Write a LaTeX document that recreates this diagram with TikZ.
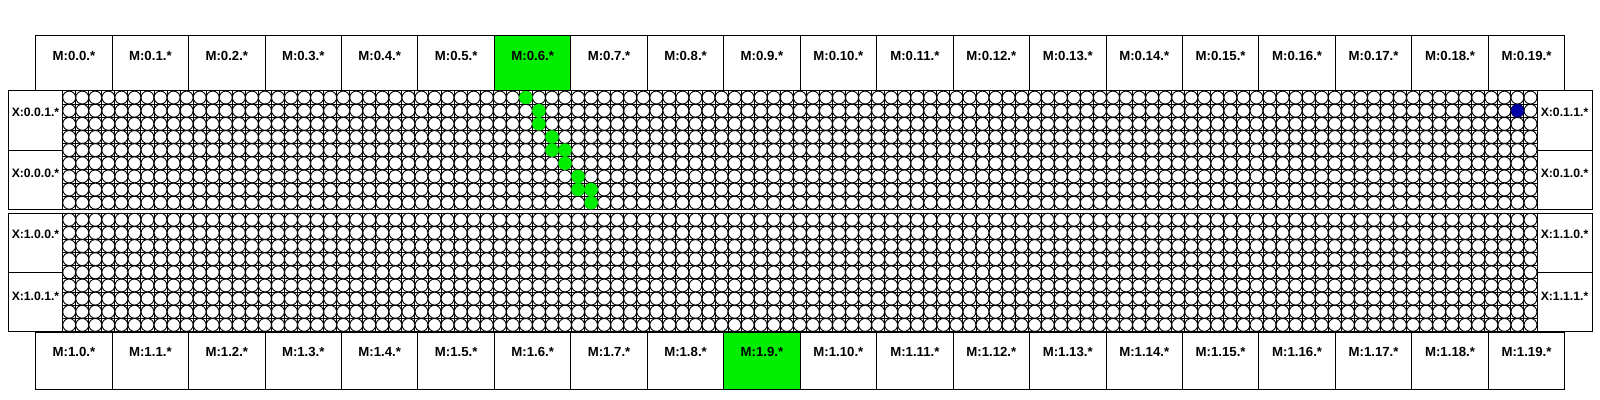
\documentclass[tikz,border=0pt]{standalone}
\usepackage{fontspec}
\setmainfont{Liberation Sans}
\definecolor{hotgreen}{RGB}{0,238,0}
\definecolor{dotblue}{RGB}{0,0,168}
\begin{document}
\begin{tikzpicture}[x=0.5pt,y=-0.5pt,line width=0.5pt,
  mbox/.style={draw=black,fill=white},
  cellbox/.style={draw=black,fill=white},
  lab/.style={font=\fontsize{6.6}{7}\selectfont\bfseries,inner sep=0pt,anchor=center},
  xlab/.style={font=\fontsize{6.1}{7}\selectfont\bfseries,inner sep=0pt,anchor=center},
  dot/.style={draw=black,fill=white,line width=0.45pt},
  gdot/.style={fill=hotgreen,draw=hotgreen,line width=0.3pt},
  bdot/.style={fill=dotblue,draw=dotblue!70!black,line width=0.3pt}]
\useasboundingbox (0,0) rectangle (1600,400);
\fill[white] (0,0) rectangle (1600,400);
% ---------- top memory boxes ----------
\foreach \i in {0,...,19}{
  \draw[mbox] ({35.7+\i*76.45},35.5) rectangle ++(76.45,55.5);
}
\draw[mbox,fill=hotgreen] ({35.7+6*76.45},35.5) rectangle ++(76.45,55.5);
\foreach \i in {0,...,19}{
  \node[lab] (mt\i) at ({35.7+(\i+0.5)*76.45},55.5) {M:0.\i.*};
}
% ---------- bottom memory boxes ----------
\foreach \i in {0,...,19}{
  \draw[mbox] ({35.7+\i*76.45},332.5) rectangle ++(76.45,57.5);
}
\draw[mbox,fill=hotgreen] ({35.7+9*76.45},332.5) rectangle ++(76.45,57.5);
\foreach \i in {0,...,19}{
  \node[lab] (mb\i) at ({35.7+(\i+0.5)*76.45},352) {M:1.\i.*};
}
% ---------- two panels ----------
\foreach \T in {91,213.2}{
  % grid lines
  \foreach \k in {0,...,113}{
    \draw ({62.7+\k*13.047},\T) -- ++(0,118.3);
  }
  \foreach \j in {0,...,9}{
    \draw (62.7,{\T+\j*13.144}) -- (1537,{\T+\j*13.144});
  }
  % circles
  \foreach \k in {0,...,112}{
    \foreach \j in {0,...,8}{
      \draw[dot] ({62.7+(\k+0.5)*13.047},{\T+(\j+0.5)*13.144}) circle (6.45);
    }
  }
  \draw (62.7,\T) rectangle (1537,{\T+118.3});
  % side cells
  \draw[cellbox] (8.3,\T) rectangle (62.7,{\T+59.15});
  \draw[cellbox] (8.3,{\T+59.15}) rectangle (62.7,{\T+118.3});
  \draw[cellbox] (1537,\T) rectangle (1592,{\T+59.15});
  \draw[cellbox] (1537,{\T+59.15}) rectangle (1592,{\T+118.3});
}
% highlighted cores
\foreach \k/\j in {35/0,36/1,36/2,37/3,37/4,38/4,38/5,39/6,39/7,40/7,40/8}{
  \path[gdot] ({62.7+(\k+0.5)*13.047},{91+(\j+0.5)*13.144}) circle (6.4);
}
\path[bdot] ({62.7+111.5*13.047},{91+1.5*13.144}) circle (6.4);
% side labels
\node[xlab] (x001) at (35.5,112.5) {X:0.0.1.*};
\node[xlab] (x000) at (35.5,173.5) {X:0.0.0.*};
\node[xlab] (x011) at (1564.5,112.5) {X:0.1.1.*};
\node[xlab] (x010) at (1564.5,173.5) {X:0.1.0.*};
\node[xlab] (x100) at (35.5,234.8) {X:1.0.0.*};
\node[xlab] (x101) at (35.5,296) {X:1.0.1.*};
\node[xlab] (x110) at (1564.5,234.8) {X:1.1.0.*};
\node[xlab] (x111) at (1564.5,296) {X:1.1.1.*};
\end{tikzpicture}
\end{document}
